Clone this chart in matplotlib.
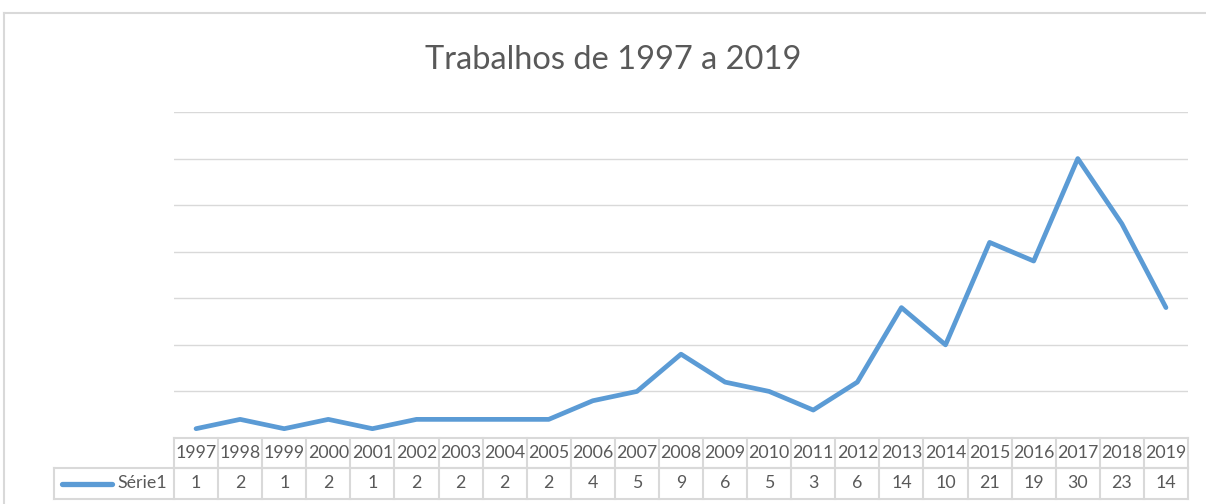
import matplotlib.pyplot as plt
from matplotlib.lines import Line2D
from matplotlib.transforms import blended_transform_factory

# dados
anos = ['1997', '1998', '1999', '2000', '2001', '2002', '2003', '2004', '2005', '2006', '2007', '2008',
        '2009', '2010', '2011', '2012', '2013', '2014', '2015', '2016', '2017', '2018', '2019']
trabalhos = [1, 2, 1, 2, 1, 2, 2, 2, 2, 4, 5, 9, 6, 5, 3, 6, 14, 10, 21, 19, 30, 23, 14]
serie_nome = 'Série1'
titulo = 'Trabalhos de 1997 a 2019'

W, H = 1206, 504
azul = '#5B9BD5'
cinza_txt = '#595959'
cinza_lin = '#D9D9D9'
plt.rcParams['font.family'] = ['Lato', 'DejaVu Sans']

fig = plt.figure(figsize=(W / 100, H / 100), dpi=100)

# moldura externa (cortada à direita e em baixo)
fig.add_artist(Line2D([4 / W, 4 / W], [0, 1 - 13 / H], color=cinza_lin, lw=1.5))
fig.add_artist(Line2D([4 / W, 1], [1 - 13 / H, 1 - 13 / H], color=cinza_lin, lw=1.5))

x0, x1, ytop, ybot = 174, 1188, 112, 438
ax = fig.add_axes([x0 / W, 1 - ybot / H, (x1 - x0) / W, (ybot - ytop) / H])
x = list(range(len(anos)))
ax.plot(x, trabalhos, color=azul, lw=3.4, solid_capstyle='round', solid_joinstyle='round', zorder=3)
ax.set_xlim(-0.5, len(anos) - 0.5)
ax.set_ylim(0, 35)
ax.set_yticks(range(5, 36, 5))
ax.yaxis.grid(True, color=cinza_lin, lw=1)
ax.tick_params(left=False, bottom=False, labelleft=False, labelbottom=False)
for s in ax.spines.values():
    s.set_visible(False)

fig.text(613 / W, 1 - 60 / H, titulo, ha='center', va='center', fontsize=23.5, color=cinza_txt)

# tabela de dados abaixo do gráfico
tr = blended_transform_factory(ax.transData, fig.transFigure)
h0, h1, h2 = 1 - 438 / H, 1 - 468 / H, 1 - 499 / H
px = (len(anos)) / (x1 - x0)  # unidades de dados por pixel
xleg = -0.5 - (x0 - 54) * px
xend = len(anos) - 0.5
kw = dict(color=cinza_lin, lw=1.5, transform=tr, clip_on=False)
for yy in (h0, h1):
    fig.add_artist(Line2D([-0.5, xend], [yy, yy], **kw))
fig.add_artist(Line2D([xleg, xend], [h1, h1], **kw))
fig.add_artist(Line2D([xleg, xend], [h2, h2], **kw))
fig.add_artist(Line2D([xleg, xleg], [h1, h2], **kw))
for i in range(len(anos) + 1):
    fig.add_artist(Line2D([i - 0.5, i - 0.5], [h0, h2], **kw))
for i, (a, v) in enumerate(zip(anos, trabalhos)):
    fig.text(i, (h0 + h1) / 2, a, transform=tr, ha='center', va='center', fontsize=12.8, color=cinza_txt)
    fig.text(i, (h1 + h2) / 2, str(v), transform=tr, ha='center', va='center', fontsize=12.8, color=cinza_txt)
ym = (h1 + h2) / 2
fig.add_artist(Line2D([-0.5 - (x0 - 62) * px, -0.5 - (x0 - 112) * px], [ym, ym], color=azul, lw=3.8,
                      solid_capstyle='round', transform=tr))
fig.text(-0.5 - (x0 - 167) * px, ym, serie_nome, transform=tr, ha='right', va='center', fontsize=12.8,
         color=cinza_txt)

fig.savefig('out.png', dpi=100)
